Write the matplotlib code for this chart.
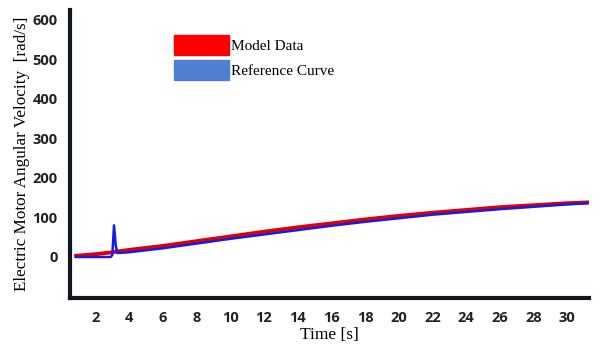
import matplotlib
matplotlib.use('Agg')
import matplotlib.pyplot as plt
from matplotlib.patches import Patch

# Model data (red)
t_model = [0.85, 2, 3, 4, 6, 8, 10, 12, 14, 16, 18, 20, 22, 24, 26, 28, 30, 31.2]
v_model = [3, 7, 12, 18, 28, 40, 52, 64, 75, 85, 95, 104, 112, 119, 126, 131, 136, 138]

# Reference curve (blue)
t_ref = [0.85, 2.9, 3.0, 3.1, 3.2, 3.3, 4, 6, 8, 10, 12, 14, 16, 18, 20, 22, 24, 26, 28, 30, 31.2]
v_ref = [0, 0, 5, 80, 30, 10, 12, 22, 34, 46, 57, 68, 79, 89, 98, 107, 114, 121, 127, 133, 136]

xticks = list(range(2, 31, 2))
yticks = [0, 100, 200, 300, 400, 500, 600]

fig = plt.figure(figsize=(6, 3.45), dpi=100)
ax = fig.add_axes([0.117, 0.136, 0.865, 0.835])

ax.plot(t_model, v_model, color='#e00000', lw=2.8, zorder=2)
ax.plot(t_ref, v_ref, color='#1a1ae6', lw=1.8, zorder=3)

ax.set_xlim(0.5, 31.3)
ax.set_ylim(-104, 625)

for s in ['top', 'right']:
    ax.spines[s].set_visible(False)
for s in ['left', 'bottom']:
    ax.spines[s].set_linewidth(3)
    ax.spines[s].set_color('#0f1622')

ax.set_xticks(xticks)
ax.set_yticks(yticks)
ax.tick_params(length=0, pad=9)
for lab in ax.get_xticklabels() + ax.get_yticklabels():
    lab.set_fontfamily('Open Sans')
    lab.set_fontweight('bold')
    lab.set_fontsize(10.5)
    lab.set_color('#222222')

ax.set_xlabel('Time [s]', fontfamily='Liberation Serif', fontsize=12.5, labelpad=2)
ax.set_ylabel('Electric Motor Angular Velocity  [rad/s]', fontfamily='Liberation Serif',
              fontsize=12.3, labelpad=2)

handles = [Patch(color='#ff0000', label='Model Data'),
           Patch(color='#4f7fd0', label='Reference Curve')]
ax.legend(handles=handles, loc='upper left', bbox_to_anchor=(0.185, 0.94), frameon=False,
          prop={'family': 'Liberation Serif', 'size': 11}, handlelength=3.6,
          handleheight=1.65, handletextpad=0.15, labelspacing=0.3, borderpad=0)

fig.savefig('out.png', dpi=100)
